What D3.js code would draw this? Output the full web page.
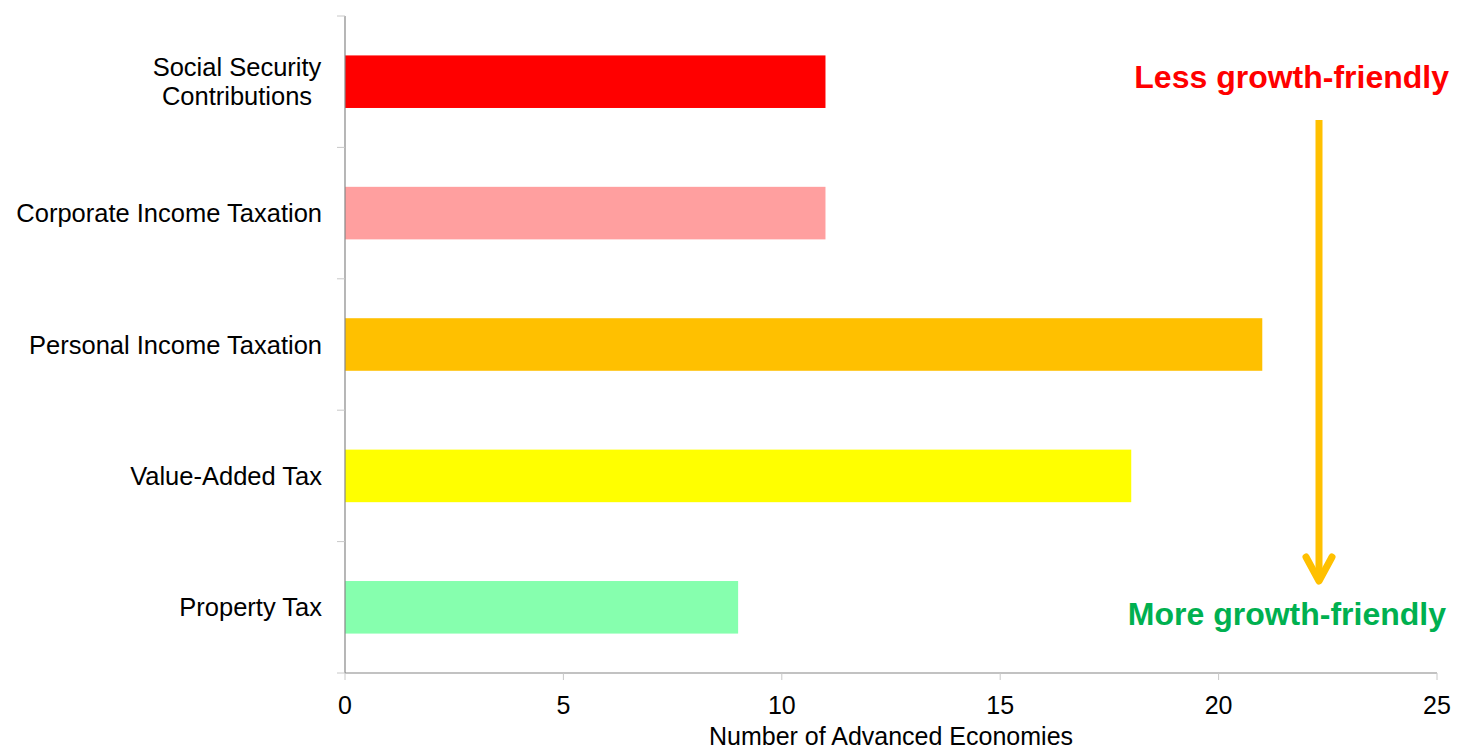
<!DOCTYPE html>
<html><head><meta charset="utf-8">
<script src="https://cdn.jsdelivr.net/npm/d3@7"></script>
<style>body{margin:0;background:#fff;} text{font-family:"Liberation Sans",Arial,sans-serif;}</style>
</head><body>
<svg id="c" width="1462" height="751"></svg>
<script>
const categories = [["Social Security","Contributions"],["Corporate Income Taxation"],["Personal Income Taxation"],["Value-Added Tax"],["Property Tax"]];
const values = [11, 11, 21, 18, 9];
const colors = ["#FF0000","#FF9F9F","#FFC000","#FFFF00","#86FFAE"];
const xTicks = [0,5,10,15,20,25];

(function(){
const svg = d3.select("#c");
const L = 345, R = 1437, T = 16, B = 673;
const x = d3.scaleLinear().domain([0,25]).range([L,R]);
const y = d3.scaleBand().domain(d3.range(categories.length)).range([T,B]).paddingInner(0.6).paddingOuter(0.3);
const yb = d3.scaleBand().domain(d3.range(categories.length)).range([T,B]);

svg.selectAll("rect.bar").data(values).join("rect")
  .attr("x", x(0)).attr("y",(d,i)=>y(i)).attr("width",d=>x(d)-x(0)).attr("height",y.bandwidth())
  .attr("fill",(d,i)=>colors[i]);

const axc = "#868686";
svg.append("line").attr("x1",L).attr("x2",L).attr("y1",T).attr("y2",B).attr("stroke",axc).attr("stroke-width",1.2);
const edges = d3.range(categories.length+1).map(i=> i<categories.length ? yb(i) : B);
svg.selectAll("line.yt").data(edges).join("line").attr("x1",L-8).attr("x2",L).attr("y1",d=>d).attr("y2",d=>d).attr("stroke","#c8c8c8");
svg.append("line").attr("x1",L).attr("x2",R).attr("y1",B).attr("y2",B).attr("stroke",axc).attr("stroke-width",1.2);
svg.selectAll("line.xt").data(xTicks).join("line").attr("x1",d=>x(d)).attr("x2",d=>x(d)).attr("y1",B).attr("y2",B+7).attr("stroke","#c8c8c8");
svg.selectAll("text.xl").data(xTicks).join("text").attr("x",d=>x(d)).attr("y",714).attr("text-anchor","middle")
  .attr("font-size",25).attr("fill","#000").text(d=>d);
svg.append("text").attr("x",891).attr("y",745).attr("text-anchor","middle").attr("font-size",25).text("Number of Advanced Economies");

categories.forEach((lines,i)=>{
  const cy = y(i)+y.bandwidth()/2;
  const n = lines.length;
  const t = svg.append("text").attr("text-anchor", n>1 ? "middle" : "end").attr("font-size",25.5).attr("fill","#000");
  lines.forEach((l,j)=>{
    t.append("tspan").attr("x", n>1 ? 237 : 322).attr("y", cy + 9 + (j-(n-1)/2)*29).text(l);
  });
});

svg.append("text").attr("x",1449).attr("y",88).attr("text-anchor","end").attr("font-size",32).attr("font-weight","bold").attr("fill","#FF0000").text("Less growth-friendly");
svg.append("text").attr("x",1446).attr("y",625).attr("text-anchor","end").attr("font-size",32).attr("font-weight","bold").attr("fill","#00B050").text("More growth-friendly");
const ac = "#FFC000";
svg.append("line").attr("x1",1319).attr("x2",1319).attr("y1",120).attr("y2",580).attr("stroke",ac).attr("stroke-width",7);
svg.append("path").attr("d","M1306,557 L1319,581 L1332,557").attr("fill","none").attr("stroke",ac).attr("stroke-width",7).attr("stroke-linecap","round").attr("stroke-linejoin","round");
})();
</script>
</body></html>
